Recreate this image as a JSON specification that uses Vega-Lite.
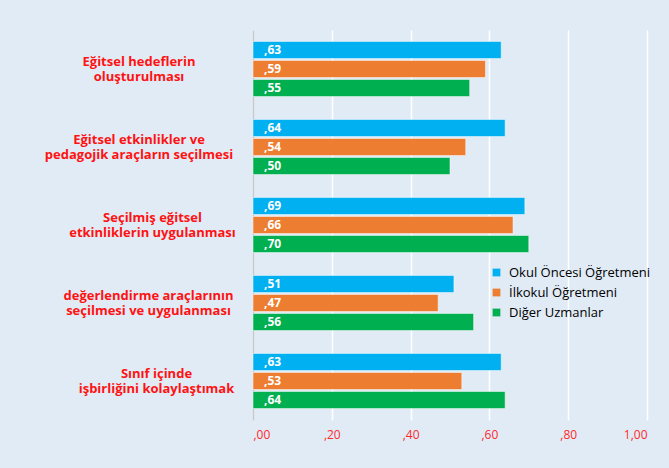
{
  "$schema": "https://vega.github.io/schema/vega-lite/v6.json",
  "width": 394,
  "height": 390,
  "autosize": {"type": "none"},
  "padding": {"left": 253, "top": 30, "right": 22, "bottom": 48},
  "background": "#e1ebf6",
  "config": {"view": {"stroke": null}, "font": "Open Sans"},
  "data": {
    "values": [
      {"kategori": "Eğitsel hedeflerin|oluşturulması", "grup": "Okul Öncesi Öğretmeni", "deger": 0.63},
      {"kategori": "Eğitsel hedeflerin|oluşturulması", "grup": "İlkokul Öğretmeni", "deger": 0.59},
      {"kategori": "Eğitsel hedeflerin|oluşturulması", "grup": "Diğer Uzmanlar", "deger": 0.55},
      {"kategori": "Eğitsel etkinlikler ve|pedagojik araçların seçilmesi", "grup": "Okul Öncesi Öğretmeni", "deger": 0.64},
      {"kategori": "Eğitsel etkinlikler ve|pedagojik araçların seçilmesi", "grup": "İlkokul Öğretmeni", "deger": 0.54},
      {"kategori": "Eğitsel etkinlikler ve|pedagojik araçların seçilmesi", "grup": "Diğer Uzmanlar", "deger": 0.50},
      {"kategori": "Seçilmiş eğitsel|etkinliklerin uygulanması", "grup": "Okul Öncesi Öğretmeni", "deger": 0.69},
      {"kategori": "Seçilmiş eğitsel|etkinliklerin uygulanması", "grup": "İlkokul Öğretmeni", "deger": 0.66},
      {"kategori": "Seçilmiş eğitsel|etkinliklerin uygulanması", "grup": "Diğer Uzmanlar", "deger": 0.70},
      {"kategori": "değerlendirme araçlarının|seçilmesi ve uygulanması", "grup": "Okul Öncesi Öğretmeni", "deger": 0.51},
      {"kategori": "değerlendirme araçlarının|seçilmesi ve uygulanması", "grup": "İlkokul Öğretmeni", "deger": 0.47},
      {"kategori": "değerlendirme araçlarının|seçilmesi ve uygulanması", "grup": "Diğer Uzmanlar", "deger": 0.56},
      {"kategori": "Sınıf içinde|işbirliğini kolaylaştımak", "grup": "Okul Öncesi Öğretmeni", "deger": 0.63},
      {"kategori": "Sınıf içinde|işbirliğini kolaylaştımak", "grup": "İlkokul Öğretmeni", "deger": 0.53},
      {"kategori": "Sınıf içinde|işbirliğini kolaylaştımak", "grup": "Diğer Uzmanlar", "deger": 0.64}
    ]
  },
  "transform": [
    {"calculate": "replace(format(datum.deger, '.2f'), '0.', ',')", "as": "etiket"}
  ],
  "encoding": {
    "y": {
      "field": "kategori",
      "type": "nominal",
      "sort": null,
      "scale": {"paddingInner": 0, "paddingOuter": 0},
      "axis": {
        "title": null,
        "labelExpr": "split(datum.label, '|')",
        "labelColor": "#ff1212",
        "labelFontWeight": "bold",
        "labelFontSize": 13,
        "labelLineHeight": 15,
        "labelLimit": 400,
        "ticks": false,
        "domainColor": "#c4c8cc",
        "domainWidth": 1.5,
        "labelAlign": "center",
        "labelPadding": {"expr": "datum && datum.value ? [114.5, 114.5, 101, 105, 97][indexof(['Eğitsel hedeflerin|oluşturulması', 'Eğitsel etkinlikler ve|pedagojik araçların seçilmesi', 'Seçilmiş eğitsel|etkinliklerin uygulanması', 'değerlendirme araçlarının|seçilmesi ve uygulanması', 'Sınıf içinde|işbirliğini kolaylaştımak'], datum.value)] : 100"},
        "labelOffset": -7.5
      }
    },
    "yOffset": {
      "field": "grup",
      "sort": ["Okul Öncesi Öğretmeni", "İlkokul Öğretmeni", "Diğer Uzmanlar"],
      "scale": {"paddingInner": 0.1, "paddingOuter": 0.6}
    }
  },
  "layer": [
    {
      "mark": {"type": "bar", "stroke": "white", "strokeOpacity": 0.5, "strokeWidth": 1},
      "encoding": {
        "x": {
          "field": "deger",
          "type": "quantitative",
          "scale": {"domain": [0, 1]},
          "axis": {
            "title": null,
            "values": [0, 0.2, 0.4, 0.6, 0.8, 1],
            "labelExpr": "datum.value < 1 ? replace(format(datum.value, '.2f'), '0.', ',') : '1,00'",
            "domain": false,
            "ticks": false,
            "grid": true,
            "gridColor": "white",
            "gridWidth": 1.5,
            "labelColor": "#ff2a2a",
            "labelFontSize": 12,
            "labelPadding": 9
          }
        },
        "color": {
          "field": "grup",
          "type": "nominal",
          "scale": {
            "domain": ["Okul Öncesi Öğretmeni", "İlkokul Öğretmeni", "Diğer Uzmanlar"],
            "range": ["#00b0f0", "#ed7d31", "#00b050"]
          },
          "legend": {
            "title": null,
            "orient": "none",
            "legendX": 237,
            "legendY": 236,
            "symbolType": "square",
            "symbolSize": 60,
            "symbolStrokeWidth": 0,
            "labelFontSize": 13,
            "labelOffset": 6,
            "rowPadding": 6,
            "labelLimit": 300,
            "encode": {
              "labels": {
                "update": {
                  "fill": {"signal": "datum.value === 'Okul Öncesi Öğretmeni' ? '#4a7fc1' : datum.value === 'İlkokul Öğretmeni' ? '#e0762f' : '#1fb04f'"}
                }
              }
            }
          }
        }
      }
    },
    {
      "mark": {"type": "text", "align": "left", "baseline": "middle", "dx": 11, "color": "white", "fontWeight": "bold", "fontSize": 12},
      "encoding": {
        "x": {"datum": 0, "type": "quantitative"},
        "text": {"field": "etiket"}
      }
    }
  ]
}
